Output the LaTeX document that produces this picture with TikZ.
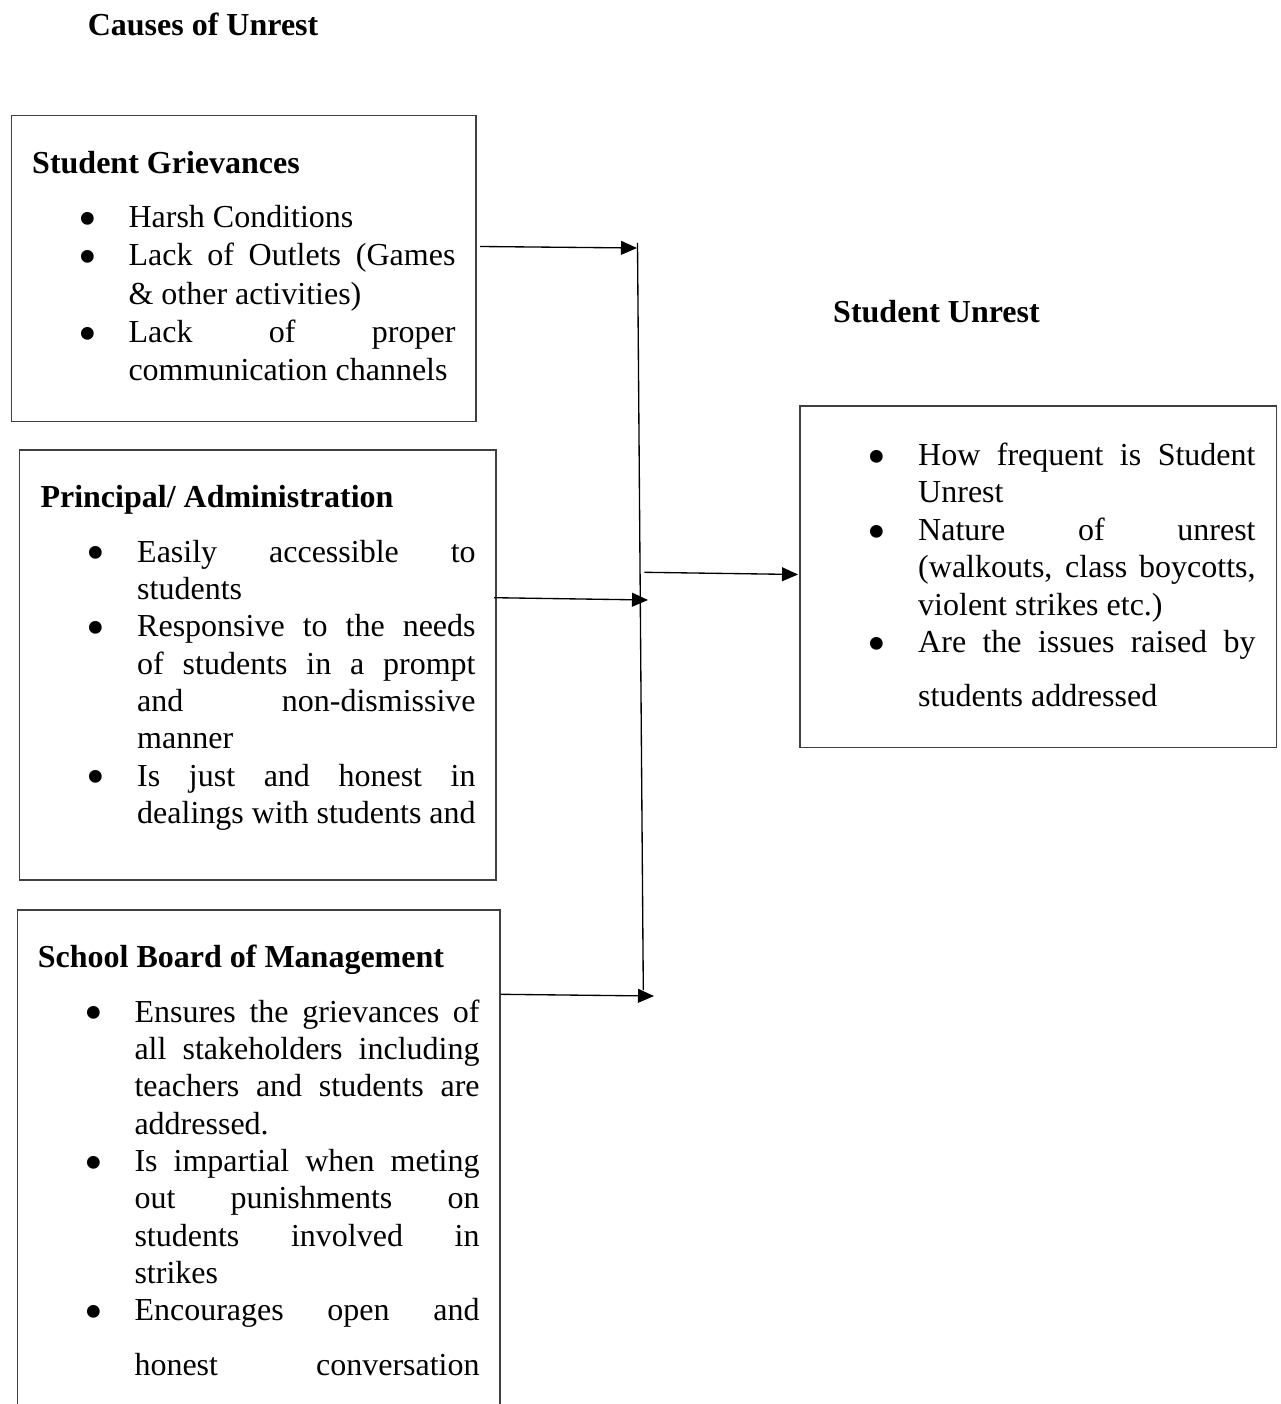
\documentclass[tikz,border=0pt]{standalone}
\usepackage{fontspec}
\setmainfont{Liberation Serif}
\usetikzlibrary{arrows.meta,fit}
\newlength\tw
\newcommand\Jl[1]{\hbox to\tw{#1}}
\newcommand\Rl[1]{\hbox to\tw{#1\hfil}}
\newcommand\bu{\llap{\makebox[0pt]{\smash{\raisebox{-3.3pt}{\fontsize{20}{20}\selectfont •}}}\hspace{15.4pt}}}
\tikzset{
  box/.style={draw=black!75, line width=0.55pt, inner sep=0pt},
  conn/.style={draw=black, line width=0.5pt},
  arr/.style={conn, -{Triangle[length=6pt,width=5.2pt]}},
  head/.style={anchor=base west, inner sep=0pt, font=\fontsize{12}{14}\selectfont\bfseries},
  txt/.style={anchor=base west, inner sep=0pt, font=\fontsize{12}{14}\selectfont}
}
\begin{document}
\fontsize{12}{14}\selectfont
\begin{tikzpicture}[x=0.375pt,y=-0.375pt]
\useasboundingbox (0,0) rectangle (1280,1404);
\clip (0,0) rectangle (1280,1404);
\fill[white] (0,0) rectangle (1280,1404);

% boxes
\node[box, fit={(11.5,115.5) (476,421.7)}] (b1) {};
\node[box, fit={(19.5,450) (496,880)}] (b2) {};
\node[box, fit={(17.7,910) (500,1440)}] (b3) {};
\node[box, fit={(800,406) (1276.5,747.3)}] (b4) {};

\begin{scope}[yshift=-0.8pt]
\node[head] (title) at (87.3,33) {Causes of Unrest};
\node[head] (title2) at (832.7,320.7) {Student Unrest};

% headings
\node[head] (h1) at (31.7,171.7) {Student Grievances};
\node[head] (h2) at (40,505) {Principal/ Administration};
\node[head] (h3) at (37.3,965) {School Board of Management};

% box 1 text
\node[txt] (t1) at (128,225.7) {\vtop{\tw=122.6pt\hsize=\tw\baselineskip=14.3pt\lineskiplimit=-20pt
\Rl{\bu Harsh Conditions}
\Jl{\bu Lack of Outlets (Games}
\Rl{\& other activities)}
\Jl{\bu Lack of proper}
\Rl{communication channels}}};

% box 2 text
\node[txt] (t2) at (136.7,560) {\vtop{\tw=126.9pt\hsize=\tw\baselineskip=14.0pt\lineskiplimit=-20pt
\Jl{\bu Easily accessible to}
\Rl{students}
\Jl{\bu Responsive to the needs}
\Jl{of students in a prompt}
\Jl{and non-dismissive}
\Rl{manner}
\Jl{\bu Is just and honest in}
\Rl{dealings with students and}}};

% box 3 text
\node[txt] (t3) at (134,1020) {\vtop{\tw=129.4pt\hsize=\tw\baselineskip=14.0pt\lineskiplimit=-20pt
\Jl{\bu Ensures the grievances of}
\Jl{all stakeholders including}
\Jl{teachers and students are}
\Rl{addressed.}
\Jl{\bu Is impartial when meting}
\Jl{out punishments on}
\Jl{students involved in}
\Rl{strikes}
\Jl{\bu Encourages open and}
\vskip 6.5pt
\Jl{honest conversation}}};

% box 4 text
\node[txt] (t4) at (917.7,463.3) {\vtop{\tw=126.5pt\hsize=\tw\baselineskip=14.05pt\lineskiplimit=-20pt
\Jl{\bu How frequent is Student}
\Rl{Unrest}
\Jl{\bu Nature of unrest}
\Jl{(walkouts, class boycotts,}
\Rl{violent strikes etc.)}
\Jl{\bu Are the issues raised by}
\vskip 6.2pt
\Rl{students addressed}}};
\end{scope}

% connectors
\coordinate (v1) at (637.5,243);
\coordinate (v2) at (643.3,990);
\draw[conn] (v1) -- (v2);

\coordinate (s1) at (480,246.5);
\coordinate (e1) at (637,248);
\coordinate (s2) at (494,597.7);
\coordinate (e2) at (648,600);
\coordinate (s3) at (500.7,994.3);
\coordinate (e3) at (654,996);
\coordinate (s4) at (644.3,572.3);
\coordinate (e4) at (798,574.5);

\draw[arr] (s1) -- (e1);
\draw[arr] (s2) -- (e2);
\draw[arr] (s3) -- (e3);
\draw[arr] (s4) -- (e4);
\end{tikzpicture}
\end{document}
